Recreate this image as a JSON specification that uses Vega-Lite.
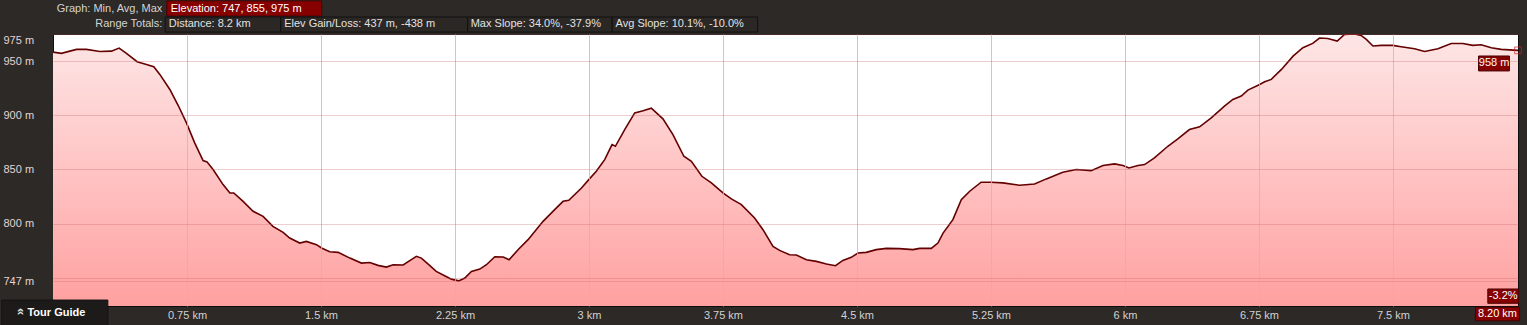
{
  "$schema": "https://vega.github.io/schema/vega-lite/v6.json",
  "width": 1465,
  "height": 272,
  "autosize": {"type": "none"},
  "padding": {"left": 53, "top": 34, "right": 9, "bottom": 19},
  "background": "#2c2927",
  "config": {
    "view": {"stroke": "#0e0e0e", "strokeWidth": 1, "fill": "#ffffff"},
    "font": "Liberation Sans"
  },
  "encoding": {
    "x": {
      "field": "km", "type": "quantitative",
      "scale": {"domain": [0, 8.2], "nice": false, "zero": false},
      "axis": {
        "title": null, "values": [0.75, 1.5, 2.25, 3, 3.75, 4.5, 5.25, 6, 6.75, 7.5],
        "labelExpr": "datum.value + ' km'", "labelFont": "Liberation Sans", "labelFontSize": 11,
        "labelColor": "#d2d2d2", "labelPadding": 9, "labelBaseline": "middle", "labelOverlap": false,
        "labelFlush": false, "ticks": false, "domain": false, "grid": true, "gridColor": "#bcbcbc",
        "gridOpacity": 0.8, "zindex": 1
      }
    },
    "y": {
      "field": "elev", "type": "quantitative",
      "scale": {"domain": [724, 975], "nice": false, "zero": false},
      "axis": {
        "title": null, "values": [747, 750, 800, 850, 900, 950, 975],
        "labelExpr": "datum.value == 750 ? '' : datum.value + ' m'", "labelFont": "Liberation Sans",
        "labelFontSize": 11, "labelColor": "#e6d2d2", "labelAlign": "left", "labelPadding": 50,
        "labelFlush": true, "labelOverlap": false, "labelBound": false, "ticks": false, "domain": false,
        "grid": true, "gridColor": "#c86464", "gridOpacity": 0.32, "zindex": 1
      }
    }
  },
  "layer": [
    {
      "data": {"name": "profile", "values": [
        {"km": 0, "elev": 958.3}, {"km": 0.047, "elev": 957.1}, {"km": 0.132, "elev": 960.8}, {"km": 0.187, "elev": 960.8},
        {"km": 0.262, "elev": 958.9}, {"km": 0.327, "elev": 959.2}, {"km": 0.37, "elev": 962.0}, {"km": 0.411, "elev": 957.1},
        {"km": 0.471, "elev": 949.4}, {"km": 0.523, "elev": 946.9}, {"km": 0.564, "elev": 944.8}, {"km": 0.598, "elev": 937.7},
        {"km": 0.654, "elev": 923.8}, {"km": 0.701, "elev": 909.0}, {"km": 0.747, "elev": 893.0}, {"km": 0.793, "elev": 874.5},
        {"km": 0.84, "elev": 858.2}, {"km": 0.862, "elev": 857.0}, {"km": 0.896, "elev": 849.9}, {"km": 0.952, "elev": 836.0},
        {"km": 0.99, "elev": 828.3}, {"km": 1.012, "elev": 828.3}, {"km": 1.064, "elev": 820.6}, {"km": 1.12, "elev": 811.4},
        {"km": 1.176, "elev": 806.7}, {"km": 1.231, "elev": 797.5}, {"km": 1.288, "elev": 791.9}, {"km": 1.325, "elev": 786.7},
        {"km": 1.381, "elev": 782.1}, {"km": 1.418, "elev": 783.6}, {"km": 1.475, "elev": 780.6}, {"km": 1.503, "elev": 777.5},
        {"km": 1.549, "elev": 774.1}, {"km": 1.596, "elev": 773.5}, {"km": 1.662, "elev": 768.2}, {"km": 1.726, "elev": 763.6},
        {"km": 1.773, "elev": 764.2}, {"km": 1.819, "elev": 761.5}, {"km": 1.866, "elev": 759.9}, {"km": 1.904, "elev": 762.1},
        {"km": 1.96, "elev": 761.8}, {"km": 1.997, "elev": 765.8}, {"km": 2.034, "elev": 769.8}, {"km": 2.062, "elev": 768.2},
        {"km": 2.1, "elev": 762.7}, {"km": 2.145, "elev": 755.9}, {"km": 2.192, "elev": 751.9}, {"km": 2.23, "elev": 748.8},
        {"km": 2.271, "elev": 747.2}, {"km": 2.305, "elev": 749.8}, {"km": 2.342, "elev": 755.9}, {"km": 2.389, "elev": 758.1},
        {"km": 2.426, "elev": 762.1}, {"km": 2.473, "elev": 769.5}, {"km": 2.52, "elev": 769.2}, {"km": 2.553, "elev": 766.7},
        {"km": 2.603, "elev": 775.9}, {"km": 2.659, "elev": 785.2}, {"km": 2.743, "elev": 802.1}, {"km": 2.808, "elev": 812.9},
        {"km": 2.855, "elev": 820.6}, {"km": 2.887, "elev": 821.5}, {"km": 2.958, "elev": 832.9}, {"km": 2.999, "elev": 840.6},
        {"km": 3.041, "elev": 848.3}, {"km": 3.088, "elev": 859.1}, {"km": 3.129, "elev": 873.0}, {"km": 3.148, "elev": 871.4},
        {"km": 3.2, "elev": 886.8}, {"km": 3.256, "elev": 902.2}, {"km": 3.303, "elev": 904.1}, {"km": 3.349, "elev": 906.6},
        {"km": 3.414, "elev": 896.7}, {"km": 3.47, "elev": 882.2}, {"km": 3.531, "elev": 862.2}, {"km": 3.573, "elev": 857.6},
        {"km": 3.632, "elev": 843.7}, {"km": 3.685, "elev": 837.6}, {"km": 3.75, "elev": 828.3}, {"km": 3.797, "elev": 822.8},
        {"km": 3.853, "elev": 817.5}, {"km": 3.927, "elev": 805.2}, {"km": 3.974, "elev": 794.4}, {"km": 4.03, "elev": 779.0},
        {"km": 4.067, "elev": 775.3}, {"km": 4.123, "elev": 771.3}, {"km": 4.161, "elev": 771.0}, {"km": 4.217, "elev": 766.7},
        {"km": 4.273, "elev": 765.2}, {"km": 4.329, "elev": 762.7}, {"km": 4.38, "elev": 761.2}, {"km": 4.421, "elev": 766.1},
        {"km": 4.468, "elev": 768.9}, {"km": 4.506, "elev": 772.9}, {"km": 4.552, "elev": 773.5}, {"km": 4.608, "elev": 776.0},
        {"km": 4.664, "elev": 777.2}, {"km": 4.738, "elev": 776.9}, {"km": 4.813, "elev": 776.0}, {"km": 4.851, "elev": 777.2},
        {"km": 4.916, "elev": 777.2}, {"km": 4.953, "elev": 782.1}, {"km": 4.982, "elev": 791.3}, {"km": 5.037, "elev": 803.7},
        {"km": 5.084, "elev": 822.2}, {"km": 5.131, "elev": 829.9}, {"km": 5.195, "elev": 838.2}, {"km": 5.251, "elev": 838.2},
        {"km": 5.316, "elev": 837.6}, {"km": 5.41, "elev": 835.4}, {"km": 5.494, "elev": 836.6}, {"km": 5.56, "elev": 841.3},
        {"km": 5.652, "elev": 847.4}, {"km": 5.727, "elev": 849.9}, {"km": 5.811, "elev": 848.9}, {"km": 5.877, "elev": 853.6},
        {"km": 5.942, "elev": 855.1}, {"km": 5.989, "elev": 853.6}, {"km": 6.022, "elev": 851.4}, {"km": 6.073, "elev": 853.6},
        {"km": 6.11, "elev": 854.5}, {"km": 6.165, "elev": 860.7}, {"km": 6.24, "elev": 871.4}, {"km": 6.296, "elev": 878.2},
        {"km": 6.361, "elev": 886.8}, {"km": 6.418, "elev": 889.3}, {"km": 6.483, "elev": 897.6}, {"km": 6.557, "elev": 908.4},
        {"km": 6.604, "elev": 914.6}, {"km": 6.651, "elev": 917.7}, {"km": 6.688, "elev": 923.2}, {"km": 6.754, "elev": 928.4},
        {"km": 6.782, "elev": 930.9}, {"km": 6.819, "elev": 933.1}, {"km": 6.876, "elev": 942.3}, {"km": 6.941, "elev": 954.6},
        {"km": 6.996, "elev": 962.3}, {"km": 7.051, "elev": 966.3}, {"km": 7.089, "elev": 971.3}, {"km": 7.135, "elev": 970.9},
        {"km": 7.188, "elev": 968.5}, {"km": 7.229, "elev": 974.6}, {"km": 7.285, "elev": 975.0}, {"km": 7.322, "elev": 973.7},
        {"km": 7.351, "elev": 970.0}, {"km": 7.388, "elev": 963.9}, {"km": 7.435, "elev": 964.5}, {"km": 7.499, "elev": 964.5},
        {"km": 7.546, "elev": 963.2}, {"km": 7.621, "elev": 961.4}, {"km": 7.677, "elev": 958.9}, {"km": 7.752, "elev": 961.4},
        {"km": 7.826, "elev": 966.3}, {"km": 7.891, "elev": 966.3}, {"km": 7.947, "elev": 964.5}, {"km": 7.994, "elev": 965.1},
        {"km": 8.05, "elev": 962.3}, {"km": 8.106, "elev": 960.8}, {"km": 8.2, "elev": 959.9}
      ]},
      "layer": [
        {
          "mark": {"type": "area", "clip": true, "interpolate": "linear",
            "color": {"gradient": "linear", "x1": 0, "y1": 0, "x2": 0, "y2": 1,
              "stops": [{"offset": 0, "color": "#fde6e6"}, {"offset": 0.5, "color": "#ffc4c4"}, {"offset": 1, "color": "#ffa0a0"}]}},
          "encoding": {"y2": {"datum": 724}}
        },
        {
          "mark": {"type": "line", "clip": true, "color": "#640000", "strokeWidth": 1.6},
          "encoding": {}
        }
      ]
    },
    {
      "data": {"values": [{"km": 8.2, "elev": 959.9}]},
      "mark": {"type": "point", "shape": "square", "filled": false, "size": 45, "color": "#cc2020", "strokeWidth": 1},
      "encoding": {}
    },
    {
      "data": {"values": [
        {"km": 0.637, "km2": 1.504, "elev": 1005.5, "elev2": 991.6},
        {"km": 7.979, "km2": 8.152, "elev": 954.7, "elev2": 940.9},
        {"km": 8.031, "km2": 8.203, "elev": 739.7, "elev2": 726.5},
        {"km": 7.962, "km2": 8.209, "elev": 722.8, "elev2": 710.4}
      ]},
      "mark": {"type": "rect", "fill": "#860000", "stroke": "#4a0000", "strokeWidth": 1},
      "encoding": {"x2": {"field": "km2"}, "y2": {"field": "elev2"}}
    },
    {
      "data": {"values": [
        {"km": 0.628, "km2": 1.275, "elev": 990.7, "elev2": 976.8},
        {"km": 1.275, "km2": 2.321, "elev": 990.7, "elev2": 976.8},
        {"km": 2.321, "km2": 3.13, "elev": 990.7, "elev2": 976.8},
        {"km": 3.13, "km2": 3.944, "elev": 990.7, "elev2": 976.8}
      ]},
      "mark": {"type": "rect", "fill": "#2a2725", "stroke": "#121212", "strokeWidth": 1},
      "encoding": {"x2": {"field": "km2"}, "y2": {"field": "elev2"}}
    },
    {
      "data": {"values": [{"km": -0.287, "km2": 0.307, "elev": 729.5, "elev2": 705.6}]},
      "mark": {"type": "rect", "fill": "#1d1b1a", "stroke": "#141414", "strokeWidth": 1},
      "encoding": {"x2": {"field": "km2"}, "y2": {"field": "elev2"}}
    },
    {
      "data": {"values": [
        {"km": 0.612, "elev": 998.5, "label": "Graph: Min, Avg, Max"},
        {"km": 0.612, "elev": 983.8, "label": "Range Totals:"}
      ]},
      "mark": {"type": "text", "align": "right", "baseline": "middle", "font": "Liberation Sans", "fontSize": 11, "color": "#d4d4d4"},
      "encoding": {"text": {"field": "label"}}
    },
    {
      "data": {"values": [
        {"km": 0.659, "elev": 998.5, "label": "Elevation: 747, 855, 975 m"}
      ]},
      "mark": {"type": "text", "align": "left", "baseline": "middle", "font": "Liberation Sans", "fontSize": 11, "color": "#ffffff"},
      "encoding": {"text": {"field": "label"}}
    },
    {
      "data": {"values": [
        {"km": 0.648, "elev": 983.8, "label": "Distance: 8.2 km"},
        {"km": 1.294, "elev": 983.8, "label": "Elev Gain/Loss: 437 m, -438 m"},
        {"km": 2.338, "elev": 983.8, "label": "Max Slope: 34.0%, -37.9%"},
        {"km": 3.149, "elev": 983.8, "label": "Avg Slope: 10.1%, -10.0%"}
      ]},
      "mark": {"type": "text", "align": "left", "baseline": "middle", "font": "Liberation Sans", "fontSize": 11, "color": "#e2e2e2"},
      "encoding": {"text": {"field": "label"}}
    },
    {
      "data": {"values": [
        {"km": 8.066, "elev": 947.8, "label": "958 m"},
        {"km": 8.117, "elev": 733.0, "label": "-3.2%"},
        {"km": 8.085, "elev": 716.6, "label": "8.20 km"}
      ]},
      "mark": {"type": "text", "align": "center", "baseline": "middle", "font": "Liberation Sans", "fontSize": 11, "color": "#ffffff"},
      "encoding": {"text": {"field": "label"}}
    },
    {
      "data": {"values": [{"km": -0.143, "elev": 717.8, "label": "Tour Guide"}]},
      "mark": {"type": "text", "align": "left", "baseline": "middle", "font": "Liberation Sans", "fontSize": 11, "fontWeight": "bold", "color": "#ffffff"},
      "encoding": {"text": {"field": "label"}}
    },
    {
      "data": {"values": [{"km": -0.186, "elev": 718.8, "label": "»"}]},
      "mark": {"type": "text", "align": "center", "baseline": "middle", "font": "Liberation Sans", "fontSize": 13, "fontWeight": "bold", "angle": 270, "color": "#dddddd"},
      "encoding": {"text": {"field": "label"}}
    }
  ]
}
